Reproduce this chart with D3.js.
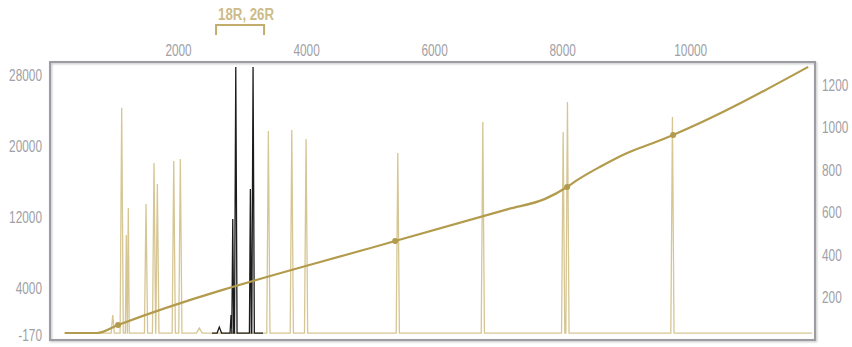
<!DOCTYPE html>
<html>
<head>
<meta charset="utf-8">
<script src="https://cdn.jsdelivr.net/npm/d3@7"></script>
<style>
  body { margin: 0; background: #fff; }
  .tick text { font-family: "Liberation Sans", Arial, sans-serif; font-size: 16px; fill: #a0a0a6; }
  .bracketlabel { font-family: "Liberation Sans", Arial, sans-serif; font-size: 17px; font-weight: bold; fill: #cdbb88; }
</style>
</head>
<body>
<svg id="chart" width="852" height="347"></svg>
<script>
// data points (x) and intensity (left axis) / size in bp (right axis)
const topTicks = [2000, 4000, 6000, 8000, 10000];
const leftTicks = [-170, 4000, 12000, 20000, 28000];
const rightTicks = [200, 400, 600, 800, 1000, 1200];

// sample trace (gold): peak positions, heights, widths (data points)
const goldStart = 219, goldEnd = 11906;
const goldPeakPos =    [980, 1120, 1192, 1223, 1500, 1625, 1677, 1933, 2036, 2333, 3411, 3777, 4000, 5433, 6761, 8016, 8083, 9723];
const goldPeakHeight = [1600, 24300, 9970, 13000, 13460, 18080, 15720, 18310, 18540, 440, 21690, 21800, 20790, 19210, 22700, 21580, 24960, 23270];
const goldPeakWidth =  [25, 25, 15, 15, 25, 25, 25, 25, 25, 45, 25, 25, 25, 25, 25, 25, 25, 25];

// second trace (black)
const blackStart = 2531, blackEnd = 3328;
const blackPeakPos =    [2645, 2828, 2855, 2902, 3130, 3172];
const blackPeakHeight = [530, 1600, 11780, 28900, 15150, 28900];
const blackPeakWidth =  [35, 15, 15, 20, 15, 20];

// size calibration curve: data point -> bp
const ladderDp = [234, 734, 1063, 5391, 7156, 7734, 8078, 8234, 8594, 9016, 9422, 9734, 11844];
const ladderBp = [33, 33, 71, 466, 616, 664, 720, 752, 815, 880, 927, 965, 1285];
const ladderMarked = [1063, 5391, 8078, 9734];

const bracketText = "18R, 26R";
const bracketRange = [2594, 3344];

const svg = d3.select("#chart");

const x = d3.scaleLinear().domain([0, 11950]).range([50, 815]);
const yInt = d3.scaleLinear().domain([-170, 4000, 28000]).range([335, 288, 75]);
const yBp = d3.scaleLinear().domain([0, 1308]).range([340, 62]);

// squeeze text horizontally so it looks like the condensed face of the original
function narrow(sel, k) {
  sel.each(function() {
    const t = d3.select(this);
    const x0 = +(t.attr("x") || 0);
    t.attr("x", x0 / k).attr("transform", `scale(${k},1)`);
  });
}

// frame
const defs = svg.append("defs");
const f = defs.append("filter").attr("id", "shadow").attr("x", "-5%").attr("y", "-5%").attr("width", "110%").attr("height", "110%");
f.append("feDropShadow").attr("dx", 1).attr("dy", 1).attr("stdDeviation", 0.8).attr("flood-color", "#000").attr("flood-opacity", 0.25);

svg.append("rect").attr("x", 50).attr("y", 62).attr("width", 765).attr("height", 278)
  .attr("fill", "none").attr("stroke", "#9c9ca2").attr("stroke-width", 2).attr("filter", "url(#shadow)");

// axes
svg.append("g").attr("transform", "translate(0,62)")
  .call(d3.axisTop(x).tickValues(topTicks).tickSize(0).tickPadding(6).tickFormat(d => d));
svg.append("g").attr("transform", "translate(50,0)")
  .call(d3.axisLeft(yInt).tickValues(leftTicks).tickSize(0).tickPadding(8).tickFormat(d => d));
svg.append("g").attr("transform", "translate(815,0)")
  .call(d3.axisRight(yBp).tickValues(rightTicks).tickSize(0).tickPadding(7).tickFormat(d => d));
svg.selectAll(".domain").remove();
svg.selectAll(".tick text").call(narrow, 0.74);

function tracePoints(start, end, pos, height, width) {
  let pts = [[start, 0]];
  pos.forEach((p, i) => {
    pts.push([p - width[i], 0], [p, height[i]], [p + width[i], 0]);
  });
  pts.push([end, 0]);
  return pts;
}

const traceLine = d3.line().x(d => x(d[0])).y(d => yInt(d[1]));

svg.append("path")
  .attr("d", traceLine(tracePoints(goldStart, goldEnd, goldPeakPos, goldPeakHeight, goldPeakWidth)))
  .attr("fill", "none").attr("stroke", "#d6c694").attr("stroke-width", 1.3);

svg.append("path")
  .attr("d", traceLine(tracePoints(blackStart, blackEnd, blackPeakPos, blackPeakHeight, blackPeakWidth)))
  .attr("fill", "none").attr("stroke", "#1c1c1c").attr("stroke-width", 1.3);

// calibration curve
const ladder = ladderDp.map((d, i) => [d, ladderBp[i]]);
const ladderLine = d3.line().x(d => x(d[0])).y(d => yBp(d[1])).curve(d3.curveMonotoneX);
svg.append("path").attr("d", ladderLine(ladder))
  .attr("fill", "none").attr("stroke", "#b29b4c").attr("stroke-width", 2.2);

svg.selectAll(".ladderdot").data(ladder.filter(d => ladderMarked.includes(d[0])))
  .enter().append("circle").attr("class", "ladderdot")
  .attr("cx", d => x(d[0])).attr("cy", d => yBp(d[1])).attr("r", 3)
  .attr("fill", "#b29b4c");

// bracket annotation
const bx0 = x(bracketRange[0]), bx1 = x(bracketRange[1]);
svg.append("path")
  .attr("d", `M${bx0},35V25H${bx1}V35`)
  .attr("fill", "none").attr("stroke", "#c2ad6c").attr("stroke-width", 2);
svg.append("text").attr("class", "bracketlabel")
  .attr("x", (bx0 + bx1) / 2 + 6).attr("y", 20).attr("text-anchor", "middle")
  .text(bracketText)
  .call(narrow, 0.78);
</script>
</body>
</html>
